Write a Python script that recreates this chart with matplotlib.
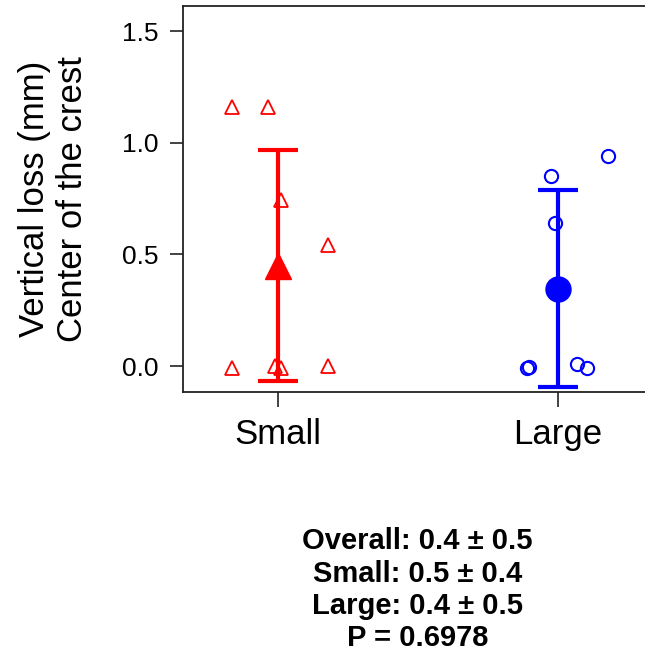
import matplotlib
matplotlib.use("Agg")
import matplotlib.pyplot as plt

plt.rcParams['font.family'] = ['Liberation Sans', 'DejaVu Sans']

# данные
groups = ["Small", "Large"]
small_x = [0.836, 0.964, 1.01, 1.18, 0.836, 0.99, 1.01, 1.18]
small_y = [1.16, 1.16, 0.743, 0.54, -0.01, 0.0, -0.01, 0.0]
large_x = [2.18, 1.975, 1.99, 1.89, 1.896, 2.07, 2.105]
large_y = [0.94, 0.85, 0.64, -0.01, -0.005, 0.01, -0.01]
means = [0.45, 0.347]
errs = [0.517, 0.442]
stats_text = ["Overall: 0.4 \u00b1 0.5", "Small: 0.5 \u00b1 0.4",
              "Large: 0.4 \u00b1 0.5", "P = 0.6978"]

red = '#FF0000'
blue = '#0000FF'

fig = plt.figure(figsize=(6.45, 6.55), dpi=100)
ax = fig.add_axes([0.2837, 0.4015, 0.7287, 0.5893])

# отдельные точки
ax.plot(small_x, small_y, linestyle='none', marker='^', markersize=10,
        markerfacecolor='none', markeredgecolor=red, markeredgewidth=1.3)
ax.plot(large_x, large_y, linestyle='none', marker='o', markersize=9.5,
        markerfacecolor='none', markeredgecolor=blue, markeredgewidth=1.5)

# среднее и погрешность
ax.errorbar([1], [means[0]], yerr=[errs[0]], fmt='^', color=red, markersize=19,
            elinewidth=3, capsize=14.4, capthick=3)
ax.errorbar([2], [means[1]], yerr=[errs[1]], fmt='o', color=blue, markersize=18,
            elinewidth=3, capsize=14.4, capthick=3)

ax.set_xlim(0.661, 2.34)
ax.set_ylim(-0.116, 1.612)
ax.set_xticks([1, 2])
ax.set_xticklabels(groups, fontsize=25)
ax.set_yticks([0.0, 0.5, 1.0, 1.5])
ax.set_yticklabels(["0.0", "0.5", "1.0", "1.5"], fontsize=19)
ax.tick_params(axis='y', length=9.4, width=1.2, pad=8, colors='#222222', labelcolor='black')
ax.tick_params(axis='x', length=10.5, width=1.2, pad=8, colors='#222222', labelcolor='black')
for s in ax.spines.values():
    s.set_linewidth(1.3)
    s.set_color('#222222')

ax.set_ylabel("Vertical loss (mm)\nCenter of the crest", fontsize=25, labelpad=24,
              linespacing=1.2)

fig.text(0.647, 0.0994, "\n".join(stats_text), ha='center', va='center',
         fontsize=21, fontweight='bold', linespacing=1.2)

fig.savefig('out.png', dpi=100)
